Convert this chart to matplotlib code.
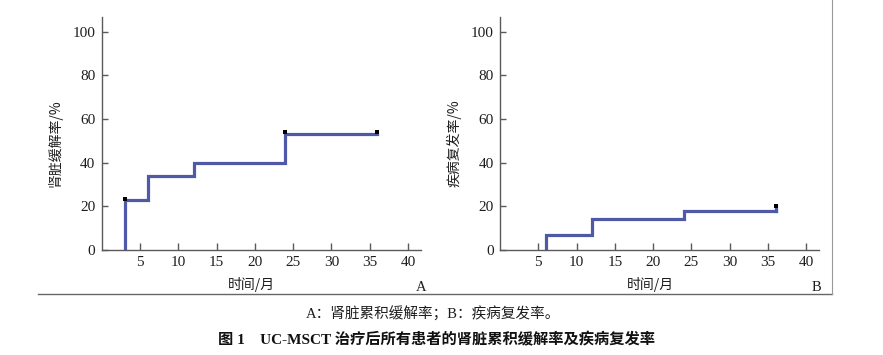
import matplotlib
matplotlib.use("Agg")
import matplotlib.pyplot as plt
from matplotlib.lines import Line2D

# 数据：肾脏累积缓解率 (A)
time_a = [3, 3, 6, 12, 24, 36]
rate_a = [0, 23, 34, 40, 53, 53]
censor_time_a = [3, 24, 36]
censor_rate_a = [23.5, 54, 54]

# 数据：疾病复发率 (B)
time_b = [6, 6, 12, 24, 36]
rate_b = [0, 7, 14, 18, 18]
censor_time_b = [36]
censor_rate_b = [20]

ylabels = ["肾脏缓解率/%", "疾病复发率/%"]
xlabel = "时间/月"
panel_tags = ["A", "B"]
xticks = [5, 10, 15, 20, 25, 30, 35, 40]
yticks = [0, 20, 40, 60, 80, 100]
note = "A：肾脏累积缓解率；B：疾病复发率。"
title = "图 1\u3000UC-MSCT 治疗后所有患者的肾脏累积缓解率及疾病复发率"

line_color = "#5058a8"
axis_color = "#5a5a5a"
text_color = "#1e1e1e"
cjk = ["Noto Sans CJK SC", "DejaVu Sans"]
serif = ["Liberation Serif", "Noto Sans CJK SC"]

fig = plt.figure(figsize=(8.83, 3.55), dpi=100)
axes = [fig.add_axes([0.1152, 0.2958, 0.3616, 0.6563]),
        fig.add_axes([0.5663, 0.2958, 0.3616, 0.6563])]

series = [(time_a, rate_a, censor_time_a, censor_rate_a),
          (time_b, rate_b, censor_time_b, censor_rate_b)]

for i, ax in enumerate(axes):
    t, r, ct, cr = series[i]
    ax.plot(t, r, drawstyle="steps-post", color=line_color, lw=2.3,
            solid_joinstyle="miter")
    if i == 1:
        ax.plot([ct[0], ct[0]], [r[-1], cr[0]], color=line_color, lw=2.3)
    ax.plot(ct, cr, "s", color="black", ms=2.6, mew=0)

    ax.set_xlim(0, 41.7)
    ax.set_ylim(0, 106.8)
    ax.set_xticks(xticks)
    ax.set_yticks(yticks)
    for side in ["top", "right"]:
        ax.spines[side].set_visible(False)
    for side in ["left", "bottom"]:
        ax.spines[side].set_color(axis_color)
        ax.spines[side].set_linewidth(1.0)
    ax.tick_params(axis="y", direction="in", length=4.5, width=1.0,
                   color=axis_color, pad=4.5, labelcolor=text_color)
    ax.tick_params(axis="x", direction="in", length=5.0, width=1.0,
                   color=axis_color, pad=4.5, labelcolor=text_color)
    for lab in ax.get_xticklabels() + ax.get_yticklabels():
        lab.set_family(serif)
        lab.set_fontsize(11)

    ax.text(0.47, -0.146, xlabel, transform=ax.transAxes, ha="center",
            va="center", family=cjk, fontsize=10, color=text_color)
    ax.text(-0.145, 0.46, ylabels[i], transform=ax.transAxes, ha="center",
            va="center", rotation=90, family=cjk, fontsize=10,
            color=text_color)
    ax.text(1.0 if i == 0 else 0.99, -0.16, panel_tags[i], transform=ax.transAxes,
            ha="center", va="center", family=serif, fontsize=10.5,
            color=text_color)

# 外框线
fig.add_artist(Line2D([0.043, 0.942], [0.1718, 0.1718], color="#666666", lw=1.0))
fig.add_artist(Line2D([0.942, 0.942], [0.1718, 1.0], color="#999999", lw=0.8))

fig.text(0.490, 0.1155, note, ha="center", va="center", family=serif,
         fontsize=10.5, color=text_color)
fig.text(0.494, 0.042, title, ha="center", va="center", family=serif,
         fontsize=11, fontweight="bold", color="#111111")

fig.savefig("out.png", dpi=100)
